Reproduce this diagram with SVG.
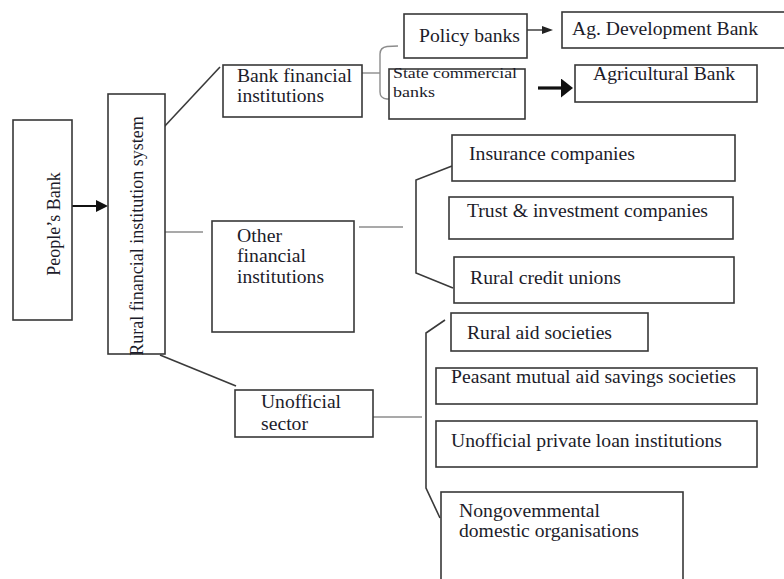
<svg xmlns="http://www.w3.org/2000/svg" width="784" height="579" viewBox="0 0 784 579">
  <style>
    .box { fill: #ffffff; stroke: #383838; stroke-width: 1.6; }
    .t { font-family: "Liberation Serif", "Times New Roman", serif; font-size: 18px; fill: #1c1c2a; }
    .ts { font-family: "Liberation Serif", "Times New Roman", serif; font-size: 14px; fill: #1c1c2a; }
    .ln { fill: none; stroke: #3a3a3a; stroke-width: 1.6; }
    .lg { fill: none; stroke: #8c8c8c; stroke-width: 1.4; }
    .ar { fill: none; stroke: #111; stroke-width: 2; }
    .arthin { fill: none; stroke: #222; stroke-width: 1.3; }
    .arthick { fill: none; stroke: #111; stroke-width: 3.2; }
  </style>
  <defs>
    <marker id="headMid" markerUnits="userSpaceOnUse" markerWidth="12" markerHeight="12" refX="4" refY="6" orient="auto">
      <path d="M0,0 L12,6 L0,12 z" fill="#111"/>
    </marker>
    <marker id="headThin" markerUnits="userSpaceOnUse" markerWidth="11" markerHeight="8" refX="3" refY="4" orient="auto">
      <path d="M0,0 L11,4 L0,8 z" fill="#222"/>
    </marker>
    <marker id="headThick" markerUnits="userSpaceOnUse" markerWidth="12" markerHeight="19" refX="4" refY="9.5" orient="auto">
      <path d="M0,0 L12,9.5 L0,19 z" fill="#111"/>
    </marker>
  </defs>
  <rect width="784" height="579" fill="#ffffff"/>

  <g id="connectors">
    <line class="ar" x1="72" y1="206" x2="100" y2="206" marker-end="url(#headMid)"/>
    <line class="ln" x1="163" y1="128" x2="220" y2="67"/>
    <line class="lg" x1="165" y1="232" x2="203" y2="232"/>
    <line class="ln" x1="160" y1="355" x2="236" y2="386"/>
    <line class="lg" x1="355" y1="73" x2="380" y2="73"/>
    <path class="lg" d="M398,46 L387,46.5 Q380,47.5 380,54 L380,92 Q380,98.5 387,99 L389,99"/>
    <line class="arthin" x1="527" y1="30" x2="545" y2="30" marker-end="url(#headThin)"/>
    <line class="arthick" x1="538" y1="88" x2="565" y2="88" marker-end="url(#headThick)"/>
    <line class="lg" x1="359" y1="227" x2="403" y2="227"/>
    <path class="ln" d="M452,166 L416,180 L416,273 L453,288"/>
    <line class="lg" x1="365" y1="417" x2="422" y2="417"/>
    <path class="ln" d="M445,320 L426,333 L426,488 L440,518"/>
  </g>

  <g id="peoples-bank">
    <rect class="box" x="13" y="120" width="59" height="200"/>
    <text class="t" text-anchor="middle" transform="translate(60,224) rotate(-90)">People’s Bank</text>
  </g>

  <g id="rural-system">
    <rect class="box" x="108" y="94" width="57" height="260"/>
    <text class="t" text-anchor="middle" transform="translate(143,236) rotate(-90)">Rural financial institution system</text>
  </g>

  <g id="bank-financial">
    <rect class="box" x="223" y="65" width="139" height="52"/>
    <text class="t" x="237" y="82" textLength="115" lengthAdjust="spacingAndGlyphs">Bank financial</text>
    <text class="t" x="237" y="102" textLength="87" lengthAdjust="spacingAndGlyphs">institutions</text>
  </g>

  <g id="policy-banks">
    <rect class="box" x="404" y="14" width="123" height="44"/>
    <text class="t" x="419" y="42" textLength="101" lengthAdjust="spacingAndGlyphs">Policy banks</text>
  </g>

  <g id="ag-development-bank">
    <rect class="box" x="562" y="12" width="230" height="36"/>
    <text class="t" x="572" y="35" textLength="186" lengthAdjust="spacingAndGlyphs">Ag. Development Bank</text>
  </g>

  <g id="state-commercial-banks">
    <rect class="box" x="389" y="69" width="136" height="50"/>
    <text class="ts" x="393" y="78" textLength="124" lengthAdjust="spacingAndGlyphs">State commercial</text>
    <text class="ts" x="393" y="97" textLength="42" lengthAdjust="spacingAndGlyphs">banks</text>
  </g>

  <g id="agricultural-bank">
    <rect class="box" x="575" y="65" width="182" height="37"/>
    <text class="t" x="593" y="80" textLength="142" lengthAdjust="spacingAndGlyphs">Agricultural Bank</text>
  </g>

  <g id="other-financial">
    <rect class="box" x="212" y="221" width="142" height="111"/>
    <text class="t" x="237" y="242" textLength="45" lengthAdjust="spacingAndGlyphs">Other</text>
    <text class="t" x="237" y="262" textLength="69" lengthAdjust="spacingAndGlyphs">financial</text>
    <text class="t" x="237" y="283" textLength="87" lengthAdjust="spacingAndGlyphs">institutions</text>
  </g>

  <g id="insurance-companies">
    <rect class="box" x="452" y="135" width="283" height="46"/>
    <text class="t" x="469" y="160" textLength="166" lengthAdjust="spacingAndGlyphs">Insurance companies</text>
  </g>

  <g id="trust-investment">
    <rect class="box" x="449" y="197" width="284" height="42"/>
    <text class="t" x="467" y="217" textLength="241" lengthAdjust="spacingAndGlyphs">Trust &amp; investment companies</text>
  </g>

  <g id="rural-credit-unions">
    <rect class="box" x="454" y="257" width="280" height="46"/>
    <text class="t" x="470" y="284" textLength="151" lengthAdjust="spacingAndGlyphs">Rural credit unions</text>
  </g>

  <g id="unofficial-sector">
    <rect class="box" x="235" y="390" width="138" height="47"/>
    <text class="t" x="261" y="408" textLength="80" lengthAdjust="spacingAndGlyphs">Unofficial</text>
    <text class="t" x="261" y="430" textLength="47" lengthAdjust="spacingAndGlyphs">sector</text>
  </g>

  <g id="rural-aid-societies">
    <rect class="box" x="451" y="313" width="197" height="38"/>
    <text class="t" x="467" y="339" textLength="145" lengthAdjust="spacingAndGlyphs">Rural aid societies</text>
  </g>

  <g id="peasant-mutual-aid">
    <rect class="box" x="436" y="368" width="321" height="36"/>
    <text class="t" x="451" y="383" textLength="285" lengthAdjust="spacingAndGlyphs">Peasant mutual aid savings societies</text>
  </g>

  <g id="unofficial-private-loan">
    <rect class="box" x="436" y="421" width="321" height="46"/>
    <text class="t" x="451" y="447" textLength="271" lengthAdjust="spacingAndGlyphs">Unofficial private loan institutions</text>
  </g>

  <g id="nongovernmental">
    <rect class="box" x="441" y="492" width="242" height="100"/>
    <text class="t" x="459" y="517" textLength="141" lengthAdjust="spacingAndGlyphs">Nongovemmental</text>
    <text class="t" x="459" y="537" textLength="180" lengthAdjust="spacingAndGlyphs">domestic organisations</text>
  </g>
</svg>
